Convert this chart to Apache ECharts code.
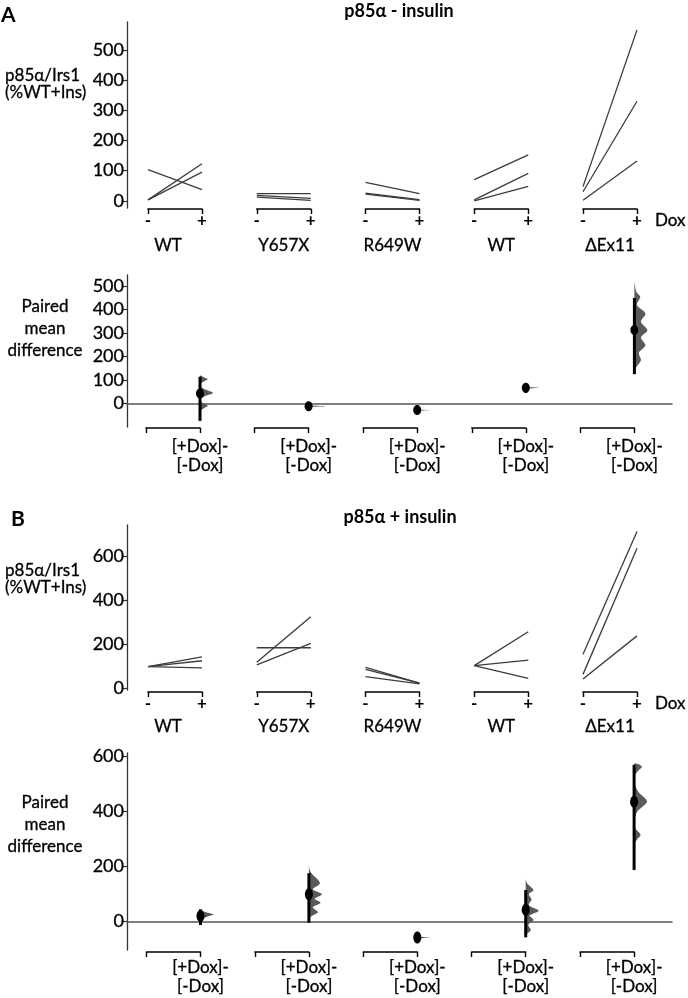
<!DOCTYPE html>
<html><head><meta charset="utf-8">
<script src="https://cdn.jsdelivr.net/npm/echarts@6/dist/echarts.min.js"></script>
<style>html,body{margin:0;padding:0;background:#fff}#c{width:688px;height:998px}</style>
</head><body><div id="c"></div>
<script>
// ---------- data ----------
const groups = ['WT', 'Y657X', 'R649W', 'WT', 'ΔEx11'];
const doxTicks = ['-', '+'];
const diffTicks = ['', '[+Dox]-\n[-Dox]'];
const yTicksA = [0, 100, 200, 300, 400, 500];
const yTicksADiff = [0, 100, 200, 300, 400, 500];
const yTicksB = [0, 200, 400, 600];
const yTicksBDiff = [0, 200, 400, 600];

// Panel A (p85α - insulin): paired values [-Dox, +Dox]
const pairsA_WT = [[103, 37], [3, 123], [3, 95]];
const pairsA_Y657X = [[24, 24], [18, 8], [12, 1]];
const pairsA_R649W = [[61, 24], [25, 4], [22, 1]];
const pairsA_WT2 = [[70, 152], [3, 91], [0, 48]];
const pairsA_Ex11 = [[47, 567], [30, 330], [2, 132]];

// Panel A paired mean differences and 95% CI
const meanA = [43, -12, -28, 67, 313];
const ciLowA = [-74, -15, -31, 45, 125];
const ciHighA = [114, -9, -25, 80, 449];
// bootstrap distributions: [value, relative density]
const densA_WT = [[120,0],[112,0.3],[104,0.6],[94,0.3],[84,0.05],[70,0.1],[57,0.5],[45,1],[34,0.5],[22,0.1],[10,0.05],[0,0.3],[-10,0.6],[-20,0.3],[-30,0]];
const densA_Y657X = [[-4,0],[-9,0.25],[-12,1.3],[-15,0.25],[-20,0]];
const densA_R649W = [[-20,0],[-25,0.25],[-28,1],[-31,0.25],[-36,0]];
const densA_WT2 = [[76,0],[70,0.25],[67,1],[63,0.25],[57,0]];
const densA_Ex11 = [[520,0],[500,0.05],[475,0.15],[454,0.45],[419,0.2],[383,0.85],[348,0.5],[312,1],[281,0.5],[248,0.85],[216,0.35],[184,0.5],[155,0.15],[128,0]];

// Panel B (p85α + insulin)
const pairsB_WT = [[100, 145], [100, 127], [100, 95]];
const pairsB_Y657X = [[186, 186], [120, 327], [108, 206]];
const pairsB_R649W = [[97, 25], [88, 25], [55, 22]];
const pairsB_WT2 = [[105, 259], [105, 130], [105, 47]];
const pairsB_Ex11 = [[156, 714], [65, 638], [44, 240]];

const meanB = [21, 100, -58, 43, 436];
const ciLowB = [-12, -4, -62, -57, 188];
const ciHighB = [45, 176, -54, 115, 570];
const densB_WT = [[42,0],[34,0.4],[26,1],[18,0.5],[8,0.1],[2,0]];
const densB_Y657X = [[205,0],[190,0.05],[176,0.2],[140,0.85],[118,0.3],[100,1],[83,0.45],[69,0.9],[52,0.3],[34,0.7],[18,0.15],[0,0]];
const densB_R649W = [[-50,0],[-55,0.25],[-58,1],[-61,0.25],[-66,0]];
const densB_WT2 = [[155,0],[140,0.1],[115,0.6],[100,0.25],[81,0.45],[60,0.25],[40,1],[22,0.3],[6,0.6],[-12,0.2],[-30,0.4],[-45,0.1],[-57,0]];
const densB_Ex11 = [[572,0.35],[562,0.6],[550,0.35],[530,0.05],[500,0.05],[470,0.35],[450,0.8],[436,1],[420,0.7],[400,0.25],[370,0.03],[345,0.05],[330,0.25],[315,0.5],[300,0.25],[280,0.02],[240,0],[188,0]];

const pairsA = [pairsA_WT, pairsA_Y657X, pairsA_R649W, pairsA_WT2, pairsA_Ex11];
const densA = [densA_WT, densA_Y657X, densA_R649W, densA_WT2, densA_Ex11];
const pairsB = [pairsB_WT, pairsB_Y657X, pairsB_R649W, pairsB_WT2, pairsB_Ex11];
const densB = [densB_WT, densB_Y657X, densB_R649W, densB_WT2, densB_Ex11];

// ---------- layout ----------
const FONT = 'Lato';
const AXIS_X = 127;
const VIOLIN_W = 13;
const panels = [
  {type:'pairs', top:22, height:186, min:-24, max:593, ticks:yTicksA, x0:148, step:108.75, w:54, offset:1, pairs:pairsA, nameGap:28},
  {type:'diff', top:275, height:152, min:-100, max:547, ticks:yTicksADiff, x0:146, step:108.6, w:54, offset:1, mean:meanA, lo:ciLowA, hi:ciHighA, dens:densA, margin:9, lh:19, rx:4, ry:5},
  {type:'pairs', top:525, height:165, min:-6, max:744, ticks:yTicksB, x0:148, step:108.75, w:54, offset:2, pairs:pairsB, nameGap:26},
  {type:'diff', top:753, height:197, min:-103, max:613, ticks:yTicksBDiff, x0:146.5, step:108.4, w:54, offset:2, mean:meanB, lo:ciLowB, hi:ciHighB, dens:densB, margin:6, lh:19, rx:4, ry:6}
];

const grid = [], xAxis = [], yAxis = [], series = [];

function makeRender(dens, rx, ry) {
  return function (params, api) {
    const mean = api.value(1), lo = api.value(2), hi = api.value(3);
    const base = api.coord([1, mean]);
    const cx = base[0];
    const pts = dens.map(function (d) { const c = api.coord([1, d[0]]); return [cx + d[1] * VIOLIN_W, c[1]]; });
    const first = api.coord([1, dens[0][0]]);
    const last = api.coord([1, dens[dens.length - 1][0]]);
    const poly = [[cx, first[1]]].concat(pts, [[cx, last[1]]]);
    const pLo = api.coord([1, lo]), pHi = api.coord([1, hi]);
    return {
      type: 'group',
      children: [
        {type: 'polygon', shape: {points: poly, smooth: 0.3}, style: {fill: '#5a5a5a'}},
        {type: 'line', shape: {x1: cx, y1: pLo[1], x2: cx, y2: pHi[1]}, style: {stroke: '#000', lineWidth: 3}},
        {type: 'ellipse', shape: {cx: cx, cy: base[1], rx: rx, ry: ry}, style: {fill: '#000'}}
      ]
    };
  };
}

panels.forEach(function (p) {
  // frame grid: y axis (+ zero line for difference panels)
  const fi = grid.length;
  grid.push({left: AXIS_X, top: p.top, height: p.height, width: p.type === 'diff' ? 545 : 10, outerBoundsMode: 'none'});
  if (p.type === 'diff') {
    xAxis.push({gridIndex: fi, type: 'value', min: 0, max: 1,
      axisLine: {show: true, onZero: true, lineStyle: {color: '#555', width: 1.5}},
      axisTick: {show: false}, axisLabel: {show: false}, splitLine: {show: false}});
  } else {
    xAxis.push({gridIndex: fi, type: 'value', show: false, min: 0, max: 1});
  }
  yAxis.push({gridIndex: fi, type: 'value', min: p.min, max: p.max,
    axisLine: {show: true, lineStyle: {color: '#333', width: 1.3}},
    axisTick: {show: true, length: 4, customValues: p.ticks, lineStyle: {color: '#333', width: 1.2}},
    axisLabel: {customValues: p.ticks, fontSize: 18, fontFamily: FONT, color: '#000', margin: 3,
      textBorderColor: '#000', textBorderWidth: 0.3},
    splitLine: {show: false}});

  groups.forEach(function (g, i) {
    const gi = grid.length;
    grid.push({left: p.x0 + i * p.step, width: p.w, top: p.top, height: p.height, outerBoundsMode: 'none'});
    const xa = {gridIndex: gi, type: 'category', boundaryGap: false, offset: p.offset,
      data: p.type === 'pairs' ? doxTicks : diffTicks,
      axisLine: {onZero: false, lineStyle: {color: '#000', width: 1.6}},
      axisTick: {show: true, length: 5, lineStyle: {color: '#000', width: 1.4}},
      splitLine: {show: false}};
    if (p.type === 'pairs') {
      xa.axisLabel = {interval: 0, fontSize: 17, fontWeight: 'bold', fontFamily: FONT, color: '#000', margin: 3};
      xa.name = g;
      xa.nameLocation = 'middle';
      xa.nameGap = p.nameGap;
      xa.nameTextStyle = {fontSize: 17, fontFamily: FONT, color: '#000', padding: i === 0 ? [0, 14, 0, 0] : 0,
        textBorderColor: '#000', textBorderWidth: 0.3};
    } else {
      xa.axisLabel = {interval: 0, fontSize: 17, fontFamily: FONT, color: '#000', margin: p.margin, lineHeight: p.lh,
        textBorderColor: '#000', textBorderWidth: 0.3};
    }
    xAxis.push(xa);
    yAxis.push({gridIndex: gi, type: 'value', show: false, min: p.min, max: p.max, splitLine: {show: false}});

    if (p.type === 'pairs') {
      p.pairs[i].forEach(function (pair) {
        series.push({type: 'line', xAxisIndex: gi, yAxisIndex: gi, data: pair, symbol: 'none',
          silent: true, lineStyle: {color: '#3c3c3c', width: 1.3}});
      });
    } else {
      series.push({type: 'custom', xAxisIndex: gi, yAxisIndex: gi, silent: true, clip: false,
        data: [[1, p.mean[i], p.lo[i], p.hi[i]]],
        encode: {x: 0, y: 1},
        renderItem: makeRender(p.dens[i], p.rx, p.ry)});
    }
  });
});

function txt(text, x, y, size, weight, align, lh) {
  return {type: 'text', x: x, y: y, silent: true,
    style: {text: text, fill: '#000', font: (weight || 'normal') + ' ' + size + 'px ' + FONT,
      align: align, verticalAlign: 'middle', textAlign: align, textVerticalAlign: 'middle', lineHeight: lh || size,
      stroke: '#000', lineWidth: weight === 'bold' ? 0 : 0.3}};
}

const graphic = [
  txt('A', 1, 15, 21, 'bold', 'left'),
  txt('p85α - insulin', 399, 11, 18, 'bold', 'center'),
  txt('p85α/Irs1\n(%WT+Ins)', 5, 84, 17, 'normal', 'left', 17),
  txt('Dox', 655, 221, 17, 'normal', 'left'),
  txt('Paired\nmean\ndifference', 45, 329, 17, 'normal', 'center', 22),
  txt('B', 11, 519, 21, 'bold', 'left'),
  txt('p85α + insulin', 400, 517, 18, 'bold', 'center'),
  txt('p85α/Irs1\n(%WT+Ins)', 5, 579, 17, 'normal', 'left', 17),
  txt('Dox', 655, 704, 17, 'normal', 'left'),
  txt('Paired\nmean\ndifference', 45, 825, 17, 'normal', 'center', 22)
];

const chart = echarts.init(document.getElementById('c'), null, {renderer: 'canvas'});
chart.setOption({
  animation: false,
  backgroundColor: '#fff',
  textStyle: {fontFamily: FONT},
  grid: grid, xAxis: xAxis, yAxis: yAxis, series: series, graphic: graphic
});
</script></body></html>
